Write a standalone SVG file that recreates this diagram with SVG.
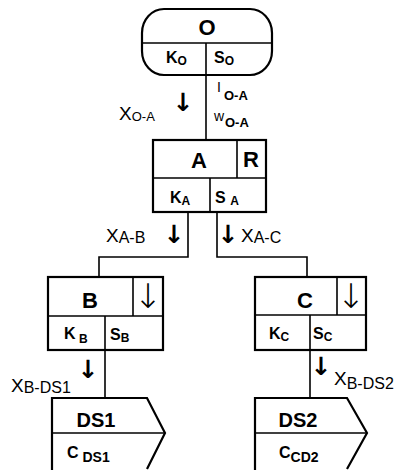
<svg xmlns="http://www.w3.org/2000/svg" width="404" height="470" viewBox="0 0 404 470">
<style>
.box{fill:#fff;stroke:#000;stroke-width:2.2}
.div{stroke:#000;stroke-width:1.6;fill:none}
.con{stroke:#000;stroke-width:1.6;fill:none}
.big{font-family:"Liberation Sans",Arial,sans-serif;font-weight:bold;font-size:22px;text-anchor:middle}
.ds{font-family:"Liberation Sans",Arial,sans-serif;font-weight:bold;font-size:20px;text-anchor:middle}
.lab{font-family:"Liberation Sans",Arial,sans-serif;font-weight:bold;font-size:16px}
.sub{font-size:12px}
.fl{font-family:"Liberation Sans",Arial,sans-serif;font-size:19px}
.fls{font-size:16px}
.arr{font-family:"DejaVu Sans",sans-serif;font-weight:bold;font-size:25px;text-anchor:middle}
.carr{font-family:"DejaVu Sans",sans-serif;font-weight:200;font-size:34px;text-anchor:middle}
.sm{font-family:"Liberation Sans",Arial,sans-serif;font-size:14px;fill:#000}
</style>
<g id="connectors">
<line class="con" x1="206" y1="75" x2="206" y2="140"/>
<polyline class="con" points="188,212 188,257 99,257 99,277"/>
<polyline class="con" points="217,212 217,257 307,257 307,277"/>
<line class="con" x1="105" y1="350" x2="105" y2="398"/>
<line class="con" x1="310" y1="350" x2="310" y2="398"/>
<text class="arr" x="183" y="111">&#x2193;&#xFE0E;</text>
<text class="fl" x="119" y="120" font-size="16">X<tspan font-size="13" dy="1">O-A</tspan></text>
<text class="sm" x="217" y="92">I<tspan font-weight="bold" font-size="13" x="224" dy="8">O-A</tspan></text>
<text class="sm" x="214" y="121" font-size="13">w<tspan font-weight="bold" font-size="13" x="225" dy="6">O-A</tspan></text>
<text class="arr" x="174" y="243">&#x2193;&#xFE0E;</text>
<text class="fl" x="106" y="242">X<tspan class="fls" dy="1">A-B</tspan></text>
<text class="arr" x="228" y="243">&#x2193;&#xFE0E;</text>
<text class="fl" x="241" y="242">X<tspan class="fls" dy="1">A-C</tspan></text>
<text class="arr" x="88" y="378">&#x2193;&#xFE0E;</text>
<text class="fl" x="11" y="392">X<tspan class="fls" dy="1">B-DS1</tspan></text>
<text class="arr" x="321" y="375">&#x2193;&#xFE0E;</text>
<text class="fl" x="334" y="385">X<tspan class="fls" dy="4">B-DS2</tspan></text>
</g>
<g id="O">
<rect class="box" x="142" y="9" width="130" height="66" rx="22" ry="24"/>
<line class="div" x1="142" y1="43" x2="272" y2="43"/>
<line class="div" x1="206" y1="43" x2="206" y2="75"/>
<text class="big" x="207" y="35">O</text>
<text class="lab" x="166" y="63">K<tspan class="sub" dy="2">O</tspan></text>
<text class="lab" x="214" y="63">S<tspan class="sub" dy="2">O</tspan></text>
</g>
<g id="A">
<rect class="box" x="153" y="140" width="113" height="72"/>
<line class="div" x1="153" y1="178" x2="266" y2="178"/>
<line class="div" x1="237" y1="140" x2="237" y2="178"/>
<line class="div" x1="210" y1="178" x2="210" y2="212"/>
<text class="big" x="199" y="168">A</text>
<text class="big" x="251" y="167">R</text>
<text class="lab" x="170" y="203">K<tspan class="sub" dy="2">A</tspan></text>
<text class="lab" x="215" y="203">S <tspan class="sub" dy="2">A</tspan></text>
</g>
<g id="B">
<rect class="box" x="48" y="277" width="115" height="73"/>
<line class="div" x1="48" y1="316" x2="163" y2="316"/>
<line class="div" x1="133" y1="277" x2="133" y2="316"/>
<line class="div" x1="105" y1="316" x2="105" y2="350"/>
<text class="big" x="90" y="308">B</text>
<text class="carr" x="148" y="308">&#x2193;&#xFE0E;</text>
<text class="lab" x="64" y="339">K<tspan class="sub" dy="4"> B</tspan></text>
<text class="lab" x="110" y="340">S<tspan class="sub" dy="2">B</tspan></text>
</g>
<g id="C">
<rect class="box" x="255" y="277" width="111" height="73"/>
<line class="div" x1="255" y1="315" x2="366" y2="315"/>
<line class="div" x1="337" y1="277" x2="337" y2="315"/>
<line class="div" x1="310" y1="315" x2="310" y2="350"/>
<text class="big" x="305" y="308">C</text>
<text class="carr" x="351" y="308">&#x2193;&#xFE0E;</text>
<text class="lab" x="269" y="339">K<tspan class="sub" dy="2">C</tspan></text>
<text class="lab" x="313" y="339">S<tspan class="sub" dy="2">C</tspan></text>
</g>
<g id="DS1">
<path class="box" d="M52,472 V398 H147 L165,433 L147,469"/>
<line class="div" x1="52" y1="433" x2="165" y2="433"/>
<text class="ds" x="96" y="427">DS1</text>
<text class="lab" x="67" y="458" font-size="17">C<tspan font-size="14" dy="4"> DS1</tspan></text>
</g>
<g id="DS2">
<path class="box" d="M255,472 V398 H347 L367,433 L347,469"/>
<line class="div" x1="255" y1="433" x2="367" y2="433"/>
<text class="ds" x="298" y="427">DS2</text>
<text class="lab" x="279" y="458" font-size="17">C<tspan font-size="14" dy="4">CD2</tspan></text>
</g>
</svg>
